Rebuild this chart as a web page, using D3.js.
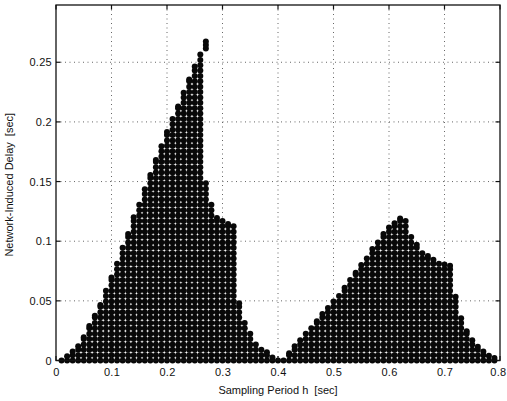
<!DOCTYPE html>
<html>
<head>
<meta charset="utf-8">
<script src="https://cdn.jsdelivr.net/npm/d3@7"></script>
<style>
  html, body { margin: 0; padding: 0; background: #fff; }
  svg text { font-family: "Liberation Sans", Arial, sans-serif; fill: #111; }
</style>
</head>
<body>
<div id="chart"></div>
<script>
// sampling periods h [sec]
const periods = [0.01, 0.02, 0.03, 0.04, 0.05, 0.06, 0.07, 0.08, 0.09, 0.10,
  0.11, 0.12, 0.13, 0.14, 0.15, 0.16, 0.17, 0.18, 0.19, 0.20,
  0.21, 0.22, 0.23, 0.24, 0.25, 0.26, 0.27, 0.28, 0.29, 0.30,
  0.31, 0.32, 0.33, 0.34, 0.35, 0.36, 0.37, 0.38, 0.39, 0.40,
  0.41, 0.42, 0.43, 0.44, 0.45, 0.46, 0.47, 0.48, 0.49, 0.50,
  0.51, 0.52, 0.53, 0.54, 0.55, 0.56, 0.57, 0.58, 0.59, 0.60,
  0.61, 0.62, 0.63, 0.64, 0.65, 0.66, 0.67, 0.68, 0.69, 0.70,
  0.71, 0.72, 0.73, 0.74, 0.75, 0.76, 0.77, 0.78, 0.79];

// largest delay reached for each period (points fill 0 .. max)
const maxDelay = [0.001, 0.0035, 0.0075, 0.012, 0.0195, 0.029, 0.0375, 0.0465, 0.0585, 0.0695,
  0.082, 0.0945, 0.106, 0.12, 0.1315, 0.1435, 0.1555, 0.168, 0.1795, 0.1915,
  0.2025, 0.213, 0.2245, 0.2355, 0.2465, 0.2575, 0.1485, 0.1305, 0.1195, 0.1175,
  0.1145, 0.1125, 0.048, 0.0315, 0.023, 0.0145, 0.010, 0.007, 0.0025, 0.0,
  0.0005, 0.006, 0.012, 0.017, 0.0225, 0.027, 0.033, 0.039, 0.044, 0.0495,
  0.055, 0.061, 0.0675, 0.0735, 0.080, 0.0865, 0.0935, 0.0995, 0.106, 0.1115,
  0.115, 0.119, 0.117, 0.1035, 0.097, 0.0905, 0.0875, 0.0845, 0.0815, 0.0805,
  0.0795, 0.0535, 0.0355, 0.0245, 0.017, 0.0115, 0.0075, 0.004, 0.002];

// separate cluster of delays above the main column
const extraPeriods = [0.27];
const extraLow = [0.2615];
const extraHigh = [0.2675];

const xTicks = [0, 0.1, 0.2, 0.3, 0.4, 0.5, 0.6, 0.7, 0.8];
const yTicks = [0, 0.05, 0.1, 0.15, 0.2, 0.25];

const delayStep = 0.0045;

//---------------------------SPACE SETUP---------------------------------
const W = 507, H = 401;
const margin = { top: 5, right: 7, bottom: 40.5, left: 56 };
const width = W - margin.left - margin.right;
const height = H - margin.top - margin.bottom;

const x = d3.scaleLinear().domain([0, 0.8]).range([0, width]);
const y = d3.scaleLinear().domain([0, 0.298]).range([height, 0]);

const svg = d3.select("#chart").append("svg")
  .attr("width", W).attr("height", H)
  .append("g")
  .attr("transform", `translate(${margin.left},${margin.top})`);

//---------------------------GRID---------------------------------
svg.append("g").selectAll("line")
  .data(xTicks.slice(1, -1))
  .enter().append("line")
  .attr("x1", d => x(d)).attr("x2", d => x(d))
  .attr("y1", 0).attr("y2", height)
  .attr("stroke", "#666").attr("stroke-width", 1)
  .attr("stroke-dasharray", "1,3.5");

svg.append("g").selectAll("line")
  .data(yTicks.slice(1))
  .enter().append("line")
  .attr("x1", 0).attr("x2", width)
  .attr("y1", d => y(d)).attr("y2", d => y(d))
  .attr("stroke", "#666").attr("stroke-width", 1)
  .attr("stroke-dasharray", "1,3.5");

//---------------------------POINTS---------------------------------
const pts = [];
periods.forEach((h, i) => {
  const top = maxDelay[i];
  let last = 0;
  for (let k = 0; k * delayStep <= top + 1e-9; k++) {
    last = k * delayStep;
    pts.push([h, last]);
  }
  if (top - last > 0.0012) pts.push([h, top]);
});
extraPeriods.forEach((h, i) => {
  for (let t = extraLow[i]; t <= extraHigh[i] + 1e-9; t += 0.003) pts.push([h, t]);
});

svg.append("g").selectAll("circle")
  .data(pts)
  .enter().append("circle")
  .attr("cx", d => x(d[0]))
  .attr("cy", d => y(d[1]))
  .attr("r", 3)
  .attr("fill", "#080808");

//---------------------------AXES---------------------------------
const tickLen = 4.5;
const fmt = d => d === 0 ? "0" : String(d);

const xAxis = d3.axisBottom(x).tickValues(xTicks).tickSize(0).tickPadding(8).tickFormat(fmt);
const yAxis = d3.axisLeft(y).tickValues(yTicks).tickSize(0).tickPadding(4).tickFormat(fmt);

const gx = svg.append("g").attr("transform", `translate(0,${height})`).call(xAxis);
const gy = svg.append("g").call(yAxis);
[gx, gy].forEach(g => {
  g.select(".domain").remove();
  g.selectAll("text").style("font-size", "11px").style("letter-spacing", "0.3px").attr("fill", "#111");
});
// last x label sits against the window edge
gx.selectAll(".tick").filter(d => d === 0.8).select("text")
  .attr("text-anchor", "end").attr("x", 6);

// inward tick marks on all four sides
const ticks = svg.append("g").attr("stroke", "#111").attr("stroke-width", 1.2);
xTicks.forEach(t => {
  ticks.append("line").attr("x1", x(t)).attr("x2", x(t)).attr("y1", height).attr("y2", height - tickLen);
  ticks.append("line").attr("x1", x(t)).attr("x2", x(t)).attr("y1", 0).attr("y2", tickLen);
});
yTicks.forEach(t => {
  ticks.append("line").attr("x1", 0).attr("x2", tickLen).attr("y1", y(t)).attr("y2", y(t));
  ticks.append("line").attr("x1", width).attr("x2", width - tickLen).attr("y1", y(t)).attr("y2", y(t));
});

svg.append("rect")
  .attr("x", 0).attr("y", 0).attr("width", width).attr("height", height)
  .attr("fill", "none").attr("stroke", "#111").attr("stroke-width", 1.3);

//---------------------------LABELS---------------------------------
svg.append("text")
  .attr("x", width / 2).attr("y", height + 33)
  .attr("text-anchor", "middle")
  .style("font-size", "11px")
  .style("white-space", "pre")
  .text("Sampling Period h  [sec]");

svg.append("text")
  .attr("transform", `translate(${-43},${height / 2 + 2}) rotate(-90)`)
  .attr("text-anchor", "middle")
  .style("font-size", "11px")
  .style("white-space", "pre")
  .text("Network-Induced Delay  [sec]");
</script>
</body>
</html>
